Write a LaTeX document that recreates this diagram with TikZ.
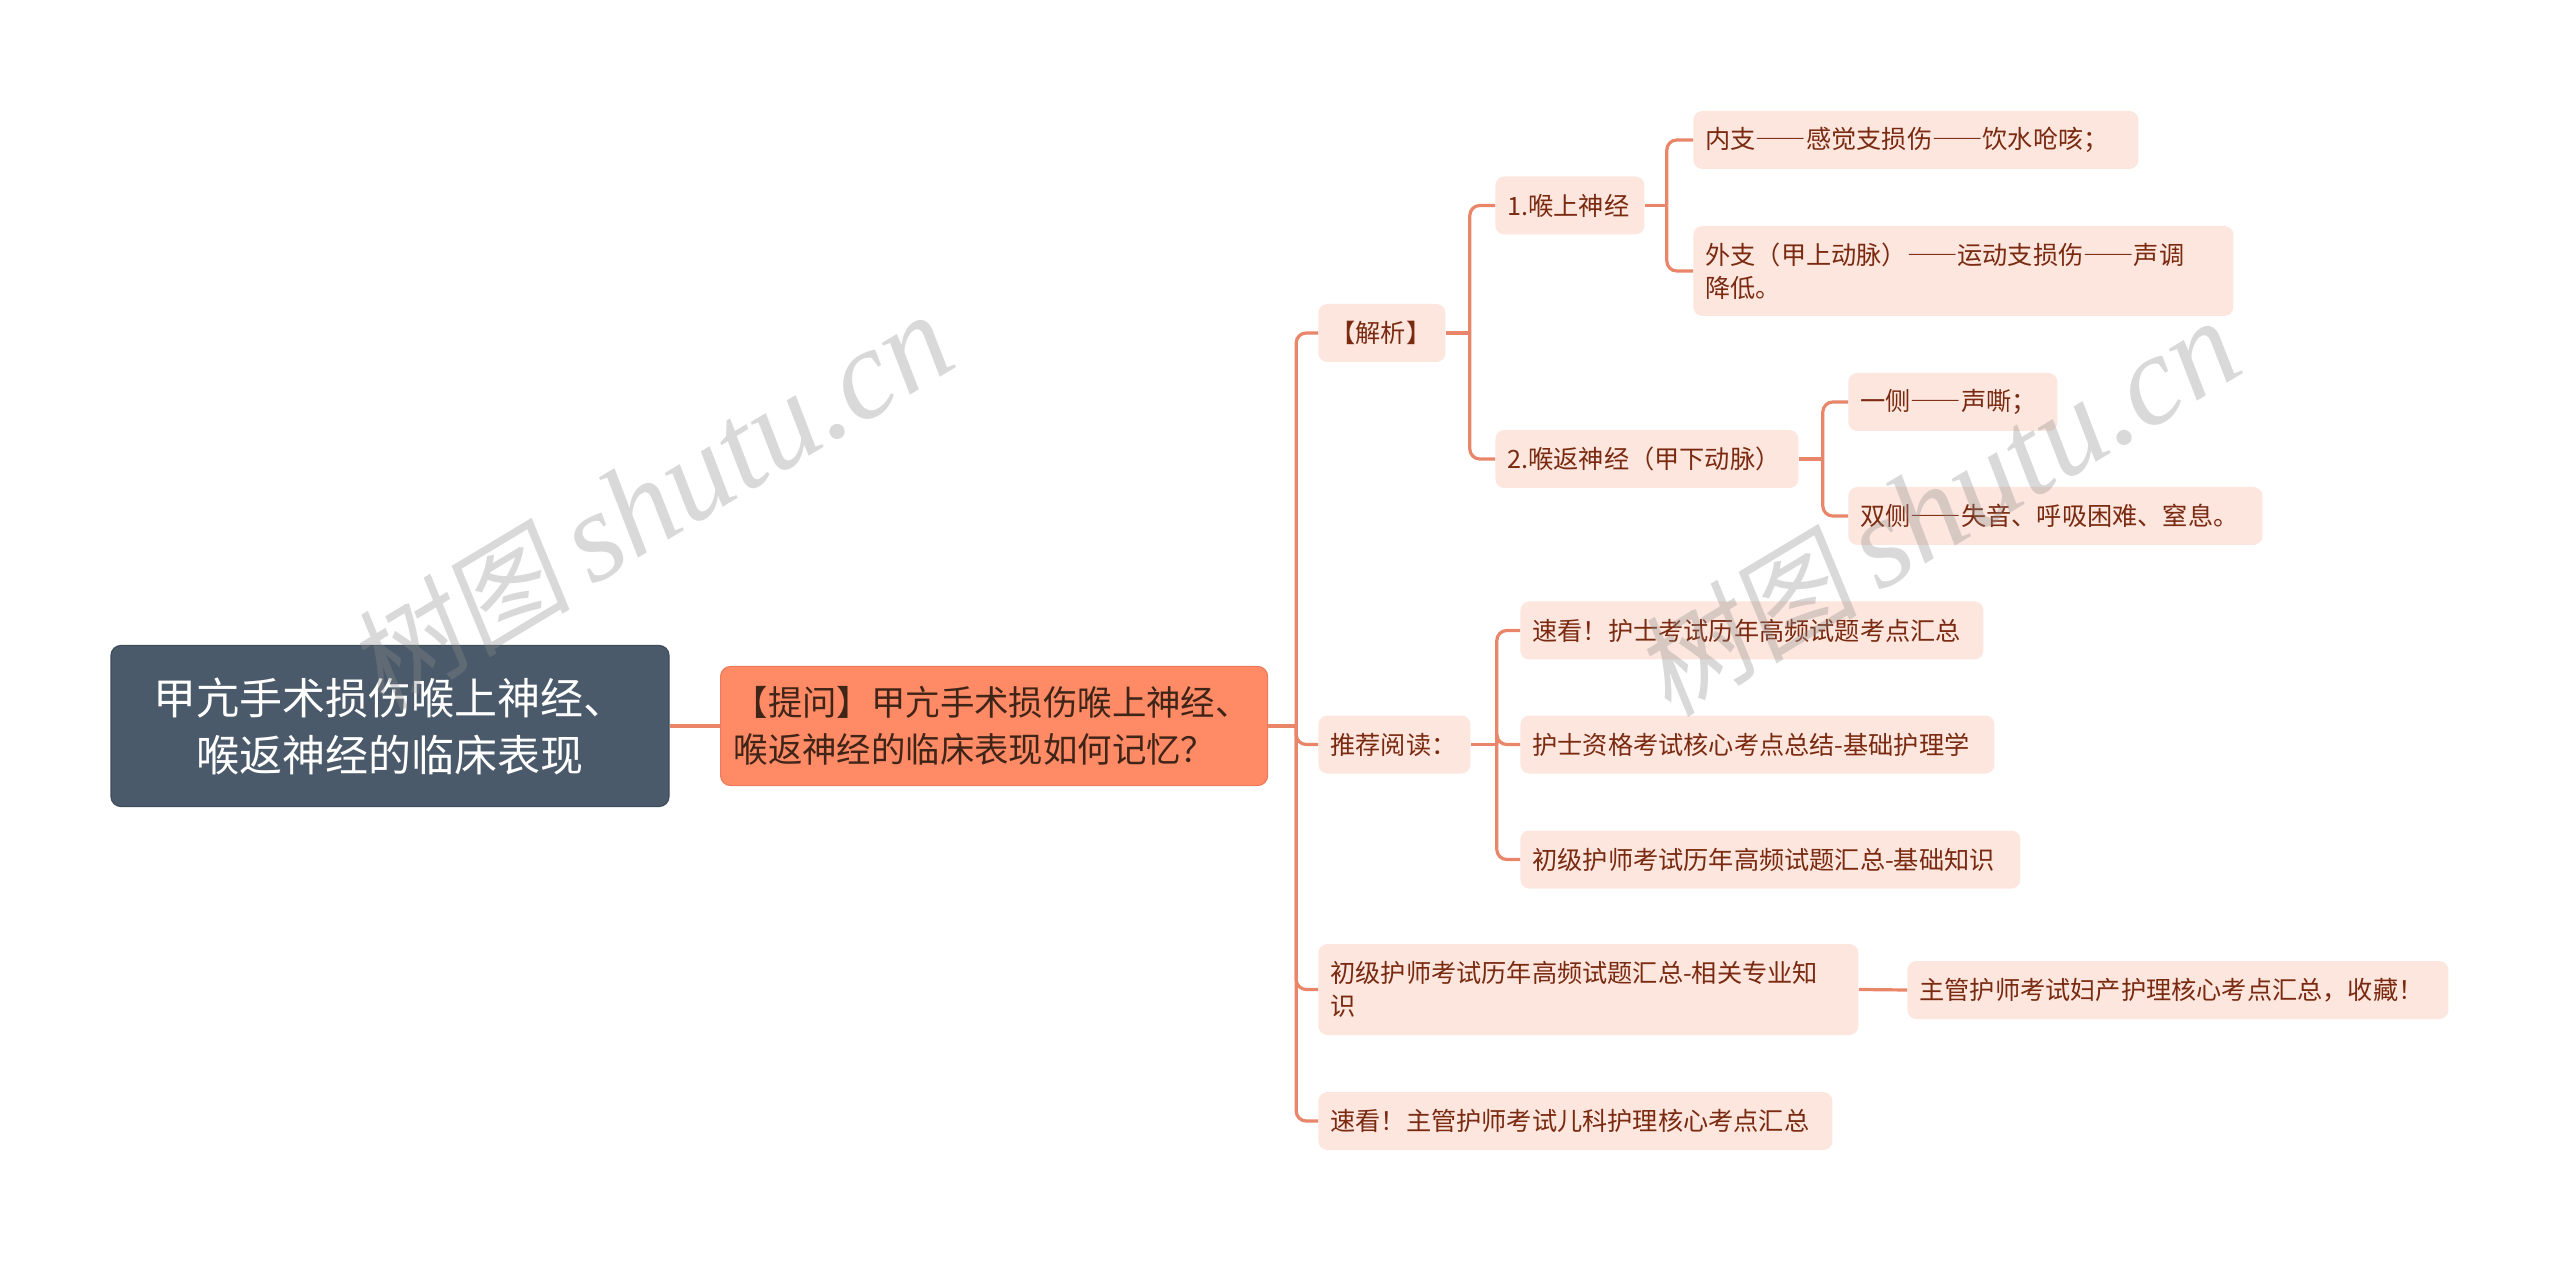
\documentclass[tikz,border=0pt]{standalone}
\usepackage{fontspec}
\setmainfont{Noto Sans CJK SC}
\newfontfamily\fwfont{Noto Sans CJK SC}[RawFeature=+fwid]
\newfontfamily\wmserif{Liberation Serif}
\newfontfamily\wmcjk{Noto Sans CJK SC}[FakeSlant=0.15]
\newcommand\dd{{\fwfont ——}}
\usetikzlibrary{calc}
\definecolor{rootbg}{HTML}{4A5A6A}
\definecolor{qbg}{HTML}{FF8A66}
\definecolor{qline}{HTML}{EC7C5B}
\definecolor{qtxt}{HTML}{3F2418}
\definecolor{leafbg}{HTML}{FDE6DE}
\definecolor{leaftxt}{HTML}{7A2A10}
\definecolor{conncol}{HTML}{E9866A}
\tikzset{
  rootn/.style={fill=rootbg, draw=rootbg!85!black, line width=0.6pt, rounded corners=5pt,
    text=white, font=\fontsize{21.5}{28.5}\selectfont, align=center,
    minimum width=279pt, minimum height=80.5pt, inner sep=0pt},
  qn/.style={fill=qbg, draw=qline, line width=0.6pt, rounded corners=5pt, text=qtxt,
    font=\fontsize{17.2}{23.5}\selectfont, align=left, text width=260.5pt,
    inner xsep=6.5pt, inner ysep=2pt, minimum height=59.5pt, anchor=west},
  leaf/.style={fill=leafbg, rounded corners=4.5pt, text=leaftxt,
    font=\fontsize{12.6}{16.5}\selectfont, align=left, inner xsep=6pt, inner ysep=2pt,
    minimum height=29pt, anchor=west},
  cn/.style={draw=conncol, line width=1.6pt},
  rc/.style={cn, rounded corners=5pt},
  wm/.style={text=black!45, text opacity=0.33, inner sep=0pt},
}
\begin{document}
\begin{tikzpicture}[x=0.5pt,y=-0.5pt]
\useasboundingbox (0,0) rectangle (2560,1261);
\fill[white] (0,0) rectangle (2560,1261);

\node[rootn] (root) at (390,726) {甲亢手术损伤喉上神经、\\喉返神经的临床表现};
\node[qn] (q) at (720,726) {【提问】甲亢手术损伤喉上神经、\\喉返神经的临床表现如何记忆？};

\node[leaf, text width=51.5pt] (jiexi) at (1318,333) {【解析】};
\node[leaf, text width=62.5pt] (hs) at (1495,205.5) {1.喉上神经};
\node[leaf, text width=139.5pt] (hf) at (1495,459) {2.喉返神经（甲下动脉）};
\node[leaf, text width=210.5pt] (nz) at (1693,140) {内支\dd 感觉支损伤\dd 饮水呛咳；};
\node[leaf, text width=258pt, minimum height=45pt] (wz) at (1693,271) {外支（甲上动脉）\dd 运动支损伤\dd 声调\\降低。};
\node[leaf, text width=92.5pt] (yc) at (1848,402) {一侧\dd 声嘶；};
\node[leaf, text width=195pt] (sc) at (1848,516) {双侧\dd 失音、呼吸困难、窒息。};
\node[leaf, text width=64pt] (tj) at (1318,744.5) {推荐阅读：};
\node[leaf, text width=219.5pt] (r1) at (1520,630.5) {速看！护士考试历年高频试题考点汇总};
\node[leaf, text width=225pt] (r2) at (1520,744.5) {护士资格考试核心考点总结-基础护理学};
\node[leaf, text width=238pt] (r3) at (1520,859.5) {初级护师考试历年高频试题汇总-基础知识};
\node[leaf, text width=258pt, minimum height=45.5pt] (cj) at (1318,989.5) {初级护师考试历年高频试题汇总-相关专业知\\识};
\node[leaf, text width=258.5pt] (zg) at (1907,990) {主管护师考试妇产护理核心考点汇总，收藏！};
\node[leaf, text width=245pt] (sk) at (1318,1121) {速看！主管护师考试儿科护理核心考点汇总};

% connectors
\draw[cn] (root.east) -- (q.west);
\coordinate (j0) at ($(q.east)+(28,0)$);
\draw[cn] (q.east) -- (j0);
\foreach \c in {jiexi,tj,cj,sk} \draw[rc] (j0) |- (\c.west);

\coordinate (j1) at ($(jiexi.east)+(24,0)$);
\draw[cn] (jiexi.east) -- (j1);
\foreach \c in {hs,hf} \draw[rc] (j1) |- (\c.west);

\coordinate (j2) at ($(hs.east)+(22,0)$);
\draw[cn] (hs.east) -- (j2);
\foreach \c in {nz,wz} \draw[rc] (j2) |- (\c.west);

\coordinate (j3) at ($(hf.east)+(24,0)$);
\draw[cn] (hf.east) -- (j3);
\foreach \c in {yc,sc} \draw[rc] (j3) |- (\c.west);

\coordinate (j4) at ($(tj.east)+(26,0)$);
\draw[cn] (tj.east) -- (j4);
\foreach \c in {r1,r2,r3} \draw[rc] (j4) |- (\c.west);

\draw[cn] (cj.east) -- (zg.west);

% watermarks
\node[wm, rotate=31] (wm1) at (650,502) {{\wmcjk\fontsize{56}{60}\selectfont 树图}\hspace{10pt}{\wmserif\itshape\fontsize{64}{70}\selectfont shutu.cn}};
\node[wm, rotate=31] (wm2) at (1937,508) {{\wmcjk\fontsize{56}{60}\selectfont 树图}\hspace{10pt}{\wmserif\itshape\fontsize{64}{70}\selectfont shutu.cn}};
\end{tikzpicture}
\end{document}
